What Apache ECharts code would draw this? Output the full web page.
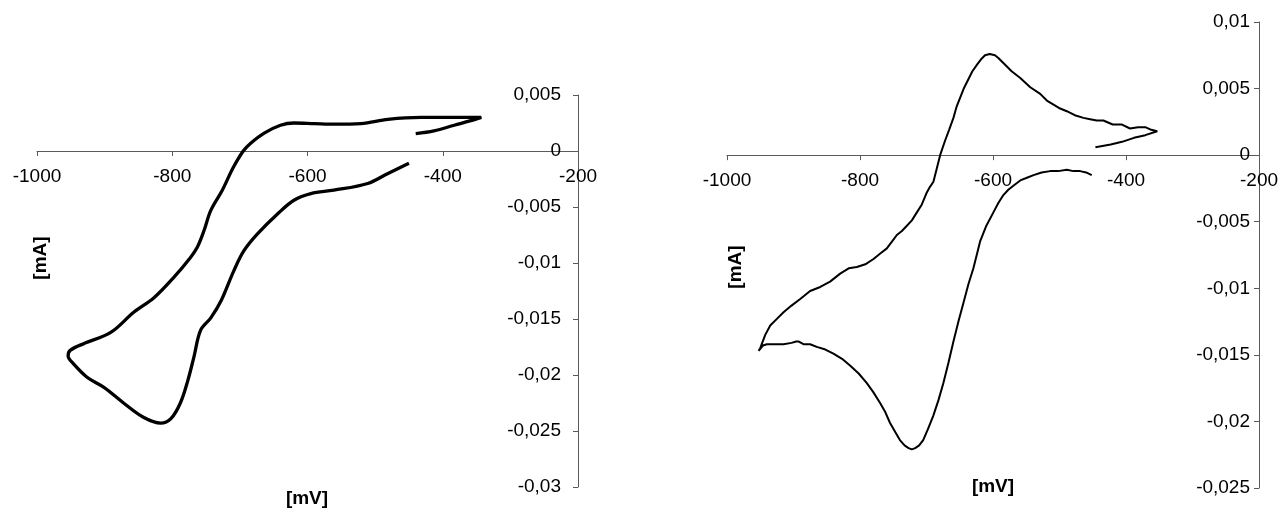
<!DOCTYPE html>
<html>
<head>
<meta charset="utf-8">
<script src="https://cdn.jsdelivr.net/npm/echarts@6/dist/echarts.min.js"></script>
<style>
html,body{margin:0;padding:0;background:#fff;}
#chart{width:1283px;height:510px;}
</style>
</head>
<body>
<div id="chart"></div>
<script>
// ---- Data ----
// Left voltammogram: potential [mV] and current [mA]
var leftV = [-440,-413,-383,-353,-343,-383,-432,-481,-521,-561,-590,-620,-640,-664,-684,-695,-710,-726,-743,-753,-763,-773,-798,-827,-857,-891,-931,-951,-954,-946,-926,-901,-872,-842,-817,-802,-788,-777,-768,-758,-743,-728,-709,-694,-674,-644,-620,-595,-561,-511,-481,-450];
var leftI = [0.00155,0.0018,0.0023,0.0028,0.003,0.003,0.003,0.00283,0.00245,0.0024,0.00245,0.0025,0.0023,0.0016,0.0007,0,-0.0015,-0.0035,-0.0053,-0.0071,-0.0086,-0.0095,-0.0113,-0.0131,-0.0144,-0.0162,-0.0172,-0.0178,-0.0183,-0.019,-0.0202,-0.0211,-0.0225,-0.0238,-0.0243,-0.0239,-0.0225,-0.0205,-0.0184,-0.016,-0.0149,-0.0134,-0.0107,-0.0089,-0.0074,-0.0056,-0.0044,-0.0038,-0.0035,-0.0029,-0.002,-0.0011];

// Right voltammogram
var rightV = [-446,-423,-406,-388,-371,-353,-362,-371,-382,-394,-406,-420,-434,-444,-454,-464,-477,-489,-499,-509,-519,-529,-544,-559,-572,-584,-592,-597,-605,-612,-618,-624,-631,-637,-644,-649.5,-655,-659.5,-666,-672,-679.5,-685,-689.6,-695,-699.5,-707,-714.5,-722,-729.5,-737,-744.6,-752,-759.6,-770,-779.7,-792,-804.7,-817,-829.8,-845,-859.8,-875,-889.9,-903,-915,-925,-935,-942.5,-950,-952.5,-946,-940,-928,-915,-903,-896,-892,-885,-875,-865,-852,-840,-827,-815,-802,-790,-780,-770,-762,-755,-747,-740,-733,-727,-722,-717,-711,-705,-698,-690,-682,-674.5,-667,-659.5,-652,-644.5,-637,-629.5,-624,-619.5,-610,-599.4,-592,-584.4,-577,-569.4,-559,-549,-539,-527,-514,-502,-489,-479,-469,-460,-451.5];
var rightI = [0.0006,0.0008,0.001,0.0013,0.0015,0.0018,0.0019,0.0021,0.0021,0.0020,0.0023,0.0023,0.0026,0.0026,0.0027,0.0028,0.0030,0.0033,0.0035,0.0038,0.0041,0.0046,0.0051,0.0058,0.0063,0.0069,0.0073,0.0075,0.0076,0.0075,0.0072,0.0068,0.0063,0.0057,0.0050,0.0043,0.0036,0.0028,0.0019,0.0011,0,-0.0011,-0.002,-0.0024,-0.0028,-0.0037,-0.0043,-0.0049,-0.0053,-0.0057,-0.006,-0.0065,-0.007,-0.0074,-0.0078,-0.0082,-0.0084,-0.0085,-0.0089,-0.0095,-0.0099,-0.0102,-0.0108,-0.0113,-0.0118,-0.0123,-0.0128,-0.0135,-0.0145,-0.0147,-0.0143,-0.0142,-0.0142,-0.0142,-0.0141,-0.014,-0.014,-0.0142,-0.0142,-0.0144,-0.0146,-0.0149,-0.0153,-0.0158,-0.0164,-0.0171,-0.0178,-0.0186,-0.0193,-0.0201,-0.0208,-0.0214,-0.0218,-0.022,-0.0221,-0.022,-0.0218,-0.0214,-0.0206,-0.0196,-0.0184,-0.0171,-0.0156,-0.014,-0.0125,-0.0111,-0.0097,-0.0085,-0.0074,-0.0065,-0.0053,-0.0043,-0.0036,-0.003,-0.0026,-0.0023,-0.0019,-0.0017,-0.0015,-0.0013,-0.0012,-0.0012,-0.0011,-0.0012,-0.0012,-0.0013,-0.0015];

// Axis settings
var xMin = -1000, xMax = -200, xStep = 200;
var leftYMin = -0.03, leftYMax = 0.005;
var rightYMin = -0.025, rightYMax = 0.01;
var yStep = 0.005;
var xTitle = '[mV]', yTitle = '[mA]';

function pairs(xs, ys){ var out=[]; for(var i=0;i<xs.length;i++) out.push([xs[i], ys[i]]); return out; }
function fmtY(v){ var n = Number(v.toFixed(3)); if (n === 0) return '0'; return String(n).replace('.', ','); }
function fmtX(v){ return String(Math.round(v)); }

var FONT = 'Liberation Sans';
var AXIS_COLOR = '#5a5a5a';

var grids = [
  {left:37, top:95, width:541, height:392, outerBoundsMode:'none', containLabel:false},
  {left:727, top:22, width:532, height:466, outerBoundsMode:'none', containLabel:false}
];

// x axis drawn on the y = 0 line of its grid (offset from the bottom edge, derived from the y scale)
function zeroOffset(g, yMin, yMax){ return -g.height * (0 - yMin) / (yMax - yMin); }

function xAxisCfg(gridIndex, off){
  return {
    type:'value', gridIndex:gridIndex, position:'bottom', offset:off, min:xMin, max:xMax, interval:xStep,
    splitLine:{show:false},
    axisLine:{show:true, onZero:false, lineStyle:{color:AXIS_COLOR, width:1}},
    axisTick:{show:true, inside:false, length:5, lineStyle:{color:AXIS_COLOR, width:1}},
    axisLabel:{color:'#000', fontFamily:FONT, fontSize:19, margin:16, formatter:fmtX, showMinLabel:true, showMaxLabel:true, hideOverlap:false}
  };
}
function yAxisCfg(gridIndex, min, max, margin){
  return {
    type:'value', gridIndex:gridIndex, position:'right', min:min, max:max, interval:yStep,
    splitLine:{show:false},
    axisLine:{show:true, onZero:false, lineStyle:{color:AXIS_COLOR, width:1}},
    axisTick:{show:true, inside:true, length:5, lineStyle:{color:AXIS_COLOR, width:1}},
    axisLabel:{inside:true, color:'#000', fontFamily:FONT, fontSize:19, margin:margin, formatter:fmtY, showMinLabel:true, showMaxLabel:true, hideOverlap:false}
  };
}

var chart = echarts.init(document.getElementById('chart'), null, {renderer:'canvas'});
chart.setOption({
  backgroundColor:'#ffffff',
  animation:false,
  grid:grids,
  xAxis:[
    xAxisCfg(0, zeroOffset(grids[0], leftYMin, leftYMax)),
    xAxisCfg(1, zeroOffset(grids[1], rightYMin, rightYMax))
  ],
  yAxis:[yAxisCfg(0, leftYMin, leftYMax, 17), yAxisCfg(1, rightYMin, rightYMax, 9)],
  series:[
    {type:'line', xAxisIndex:0, yAxisIndex:0, data:pairs(leftV, leftI), showSymbol:false, smooth:0.35,
     lineStyle:{color:'#000', width:3.3}},
    {type:'line', xAxisIndex:1, yAxisIndex:1, data:pairs(rightV, rightI), showSymbol:false, smooth:false,
     lineStyle:{color:'#000', width:2}}
  ],
  graphic:[
    {type:'text', x:41, y:258, rotation:Math.PI/2, style:{text:yTitle, font:'bold 19px "Liberation Sans"', fill:'#000', textAlign:'center', textVerticalAlign:'middle'}},
    {type:'text', x:307, y:499, style:{text:xTitle, font:'bold 19px "Liberation Sans"', fill:'#000', textAlign:'center', textVerticalAlign:'middle'}},
    {type:'text', x:736, y:267, rotation:Math.PI/2, style:{text:yTitle, font:'bold 19px "Liberation Sans"', fill:'#000', textAlign:'center', textVerticalAlign:'middle'}},
    {type:'text', x:993, y:487, style:{text:xTitle, font:'bold 19px "Liberation Sans"', fill:'#000', textAlign:'center', textVerticalAlign:'middle'}}
  ]
});
</script>
</body>
</html>
